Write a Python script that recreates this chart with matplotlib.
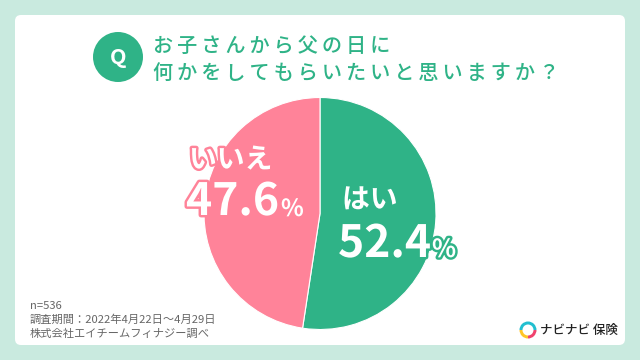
import matplotlib
matplotlib.use("Agg")
import matplotlib.pyplot as plt
import matplotlib.patheffects as pe
from matplotlib.patches import FancyBboxPatch, Circle, Wedge

CJK = ['Noto Sans CJK JP', 'DejaVu Sans']
plt.rcParams['font.family'] = CJK

categories = ["はい", "いいえ"]
values = [52.4, 47.6]
value_labels = ["52.4", "47.6"]
colors = ["#2FB387", "#FF8399"]
title_lines = ["お子さんから父の日に", "何かをしてもらいたいと思いますか？"]
footer_lines = ["n=536", "調査期間：2022年4月22日～4月29日", "株式会社エイチームフィナジー調べ"]
logo_text = "ナビナビ 保険"

GREEN = colors[0]
PINK = colors[1]
BG = "#C9EADF"
GREY = "#666666"
TS = "\u2009"

fig = plt.figure(figsize=(6.4, 3.6), dpi=100, facecolor=BG)
ax = fig.add_axes([0, 0, 1, 1])
ax.set_xlim(0, 640)
ax.set_ylim(360, 0)
ax.axis("off")

ax.add_patch(FancyBboxPatch((15, 15), 610, 330, boxstyle="round,pad=0,rounding_size=6",
                            fc="white", ec="none"))

# pie on its own axes in a square pixel box
pax = fig.add_axes([204 / 640, (360 - 329.5) / 360, 232 / 640, 232 / 360])
pax.pie(values, colors=colors, startangle=90, counterclock=False, radius=1,
        wedgeprops=dict(edgecolor="white", linewidth=0.8))
pax.set_xlim(-1, 1)
pax.set_ylim(-1, 1)
pax.set_zorder(1)

tax = fig.add_axes([0, 0, 1, 1])
tax.set_xlim(0, 640)
tax.set_ylim(360, 0)
tax.axis("off")
tax.patch.set_alpha(0)
tax.set_zorder(2)

# Q badge
tax.add_patch(Circle((118, 57), 25, fc=GREEN, ec="none"))
tax.text(118, 58, "Q", color="white", fontsize=15.5, fontweight="bold",
         ha="center", va="center")

# title
for line, y in zip(title_lines, [46, 73]):
    tax.text(153, y, TS.join(line), color=GREEN, fontsize=14.5, fontweight="medium",
             ha="left", va="center")

stroke_g = [pe.withStroke(linewidth=3.5, foreground=GREEN)]
stroke_p = [pe.withStroke(linewidth=3.5, foreground=PINK)]

# labels
tax.text(342, 200, categories[0], color="white", fontsize=20, fontweight="bold",
         ha="left", va="center", path_effects=stroke_g)
tax.text(338, 244, value_labels[0], color="white", fontsize=32, fontweight="bold",
         ha="left", va="center", path_effects=stroke_g)
tax.text(432, 250, "%", color="white", fontsize=18, fontweight="bold",
         ha="left", va="center", path_effects=stroke_g)

tax.text(189, 160, categories[1], color="white", fontsize=20, fontweight="bold",
         ha="left", va="center", path_effects=stroke_p)
tax.text(186, 202, value_labels[1], color="white", fontsize=32, fontweight="bold",
         ha="left", va="center", path_effects=stroke_p)
tax.text(281, 209, "%", color="white", fontsize=17, fontweight="bold",
         ha="left", va="center", path_effects=stroke_p)

# footer
for line, y in zip(footer_lines, [306, 320, 334]):
    tax.text(30, y, line, color=GREY, fontsize=8.1, ha="left", va="center")

# logo
c = (528, 330)
tax.add_patch(Wedge(c, 8.5, 180, 360, width=3, fc="#22BFD0", ec="none"))
tax.add_patch(Wedge(c, 8.5, 90, 180, width=3, fc="#FFC629", ec="none"))
tax.add_patch(Wedge(c, 8.5, 0, 90, width=3, fc="#F0436E", ec="none"))
tax.text(540, 330.5, logo_text, color="#222222", fontsize=9, fontweight="medium",
         ha="left", va="center")

fig.savefig("out.png", dpi=100, facecolor=BG)
